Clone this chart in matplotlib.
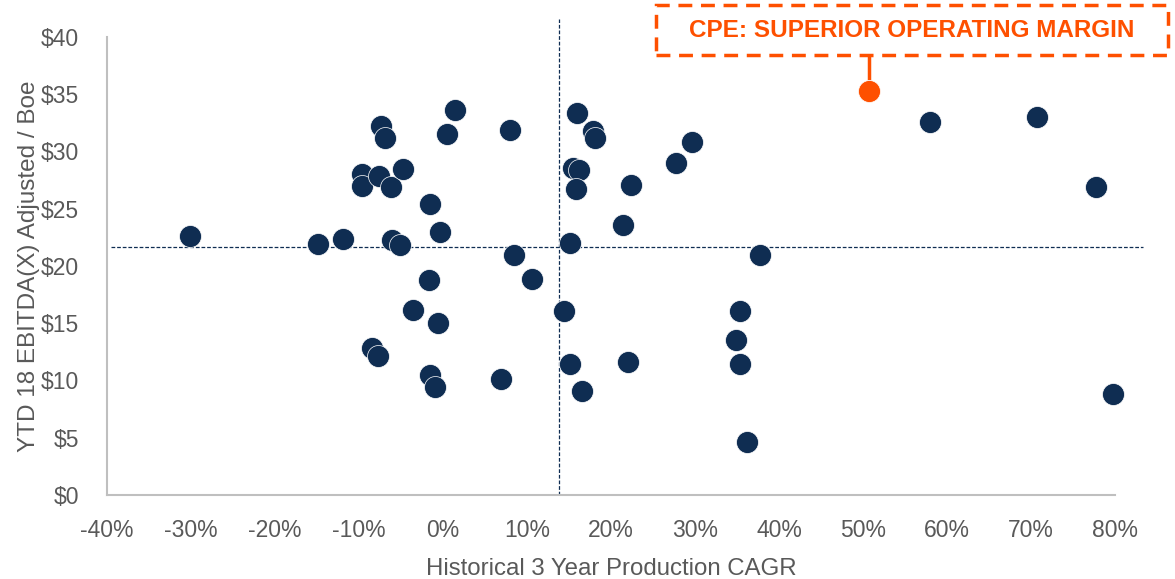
import matplotlib.pyplot as plt
from matplotlib.patches import Rectangle
from matplotlib.ticker import FuncFormatter

plt.rcParams["font.family"] = ["Liberation Sans", "DejaVu Sans"]

# Historical 3 year production CAGR (%) and YTD 18 EBITDA(X) adjusted per Boe ($)
peer_cagr = [-30.1, -14.9, -11.9, -7.4, -6.9, -9.7, -9.7, -7.6, -6.2, -4.8,
             1.4, 0.5, -1.5, -0.3, -6.1, -5.1, -1.7, -3.6, -0.6, -8.5,
             -7.7, -1.6, -1.0, 8.0, 15.9, 17.8, 18.1, 29.6, 27.7, 15.5,
             16.2, 15.8, 22.4, 21.4, 15.1, 8.5, 37.7, 10.6, 14.4, 35.4,
             34.9, 35.4, 15.1, 22.0, 6.9, 16.5, 36.2, 58.0, 70.7, 77.7, 79.8]
peer_ebitda = [22.6, 21.9, 22.4, 32.2, 31.2, 28.0, 27.0, 27.9, 26.9, 28.5,
               33.6, 31.5, 25.4, 23.0, 22.3, 21.8, 18.8, 16.2, 15.0, 12.8,
               12.1, 10.5, 9.4, 31.9, 33.4, 31.8, 31.2, 30.8, 29.0, 28.6,
               28.4, 26.7, 27.1, 23.6, 22.0, 21.0, 21.0, 18.9, 16.1, 16.1,
               13.5, 11.4, 11.4, 11.6, 10.1, 9.1, 4.6, 32.6, 33.0, 26.9, 8.8]

cpe_cagr = 50.75
cpe_ebitda = 35.3

median_cagr = 13.8
median_ebitda = 21.66

navy = "#0F2D52"
orange = "#FE5000"
gray = "#595959"

fig = plt.figure(figsize=(11.75, 5.79), dpi=100)
ax = fig.add_axes([0.0911, 0.1451, 0.8578, 0.791])

ax.scatter(peer_cagr, peer_ebitda, s=250, color=navy, edgecolors="white",
           linewidths=0.5, zorder=3, clip_on=False)
ax.scatter([cpe_cagr], [cpe_ebitda], s=250, color=orange, edgecolors="white",
           linewidths=0.5, zorder=3, clip_on=False)

# median lines (run slightly past the plot area)
ax.plot([-39.5, 83.3], [median_ebitda, median_ebitda], color=navy, lw=0.9,
        dashes=(3, 1.5), clip_on=False, zorder=2)
ax.plot([median_cagr, median_cagr], [0, 41.6], color=navy, lw=0.9,
        dashes=(3, 1.5), clip_on=False, zorder=2)

ax.set_xlim(-40, 80)
ax.set_ylim(0, 40)
ax.set_xticks(range(-40, 81, 10))
ax.set_yticks(range(0, 41, 5))
ax.xaxis.set_major_formatter(FuncFormatter(lambda v, p: f"{v:.0f}%"))
ax.yaxis.set_major_formatter(FuncFormatter(lambda v, p: f"${v:.0f}"))
ax.tick_params(length=0, labelsize=16.5, colors=gray)
ax.tick_params(axis="x", pad=17)
ax.tick_params(axis="y", pad=20)

for side in ["top", "right"]:
    ax.spines[side].set_visible(False)
for side in ["left", "bottom"]:
    ax.spines[side].set_color("#BFBFBF")
    ax.spines[side].set_linewidth(1.5)

ax.set_xlabel("Historical 3 Year Production CAGR", fontsize=17.3, color=gray,
              labelpad=11.5)
ax.set_ylabel("YTD 18 EBITDA(X) Adjusted / Boe", fontsize=17.5, color=gray,
              labelpad=1)

# callout for CPE
ax.plot([cpe_cagr, cpe_cagr], [36.4, 38.3], color=orange, lw=2.5,
        clip_on=False)
box = Rectangle((0.5583, 0.905), 0.4357, 0.0864, transform=fig.transFigure,
                fill=False, edgecolor=orange, lw=2.5, linestyle=(0, (4, 2.5)))
fig.patches.append(box)
fig.text(0.7761, 0.948, "CPE: SUPERIOR OPERATING MARGIN", color=orange,
         fontsize=17.5, fontweight="bold", ha="center", va="center")

fig.savefig("out.png", dpi=100)
